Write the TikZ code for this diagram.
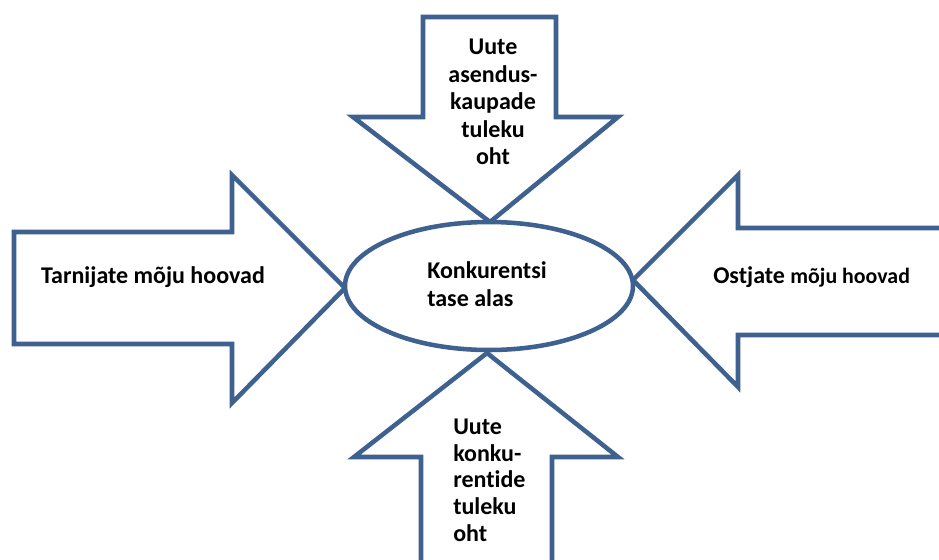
\documentclass[tikz,border=0pt]{standalone}
\usepackage{fontspec}
\setmainfont[Ligatures=NoCommon]{Carlito}
\usetikzlibrary{shapes.geometric}
\definecolor{outline}{HTML}{3E6190}
\begin{document}
\begin{tikzpicture}[x=0.75pt,y=-0.75pt,
  shapeline/.style={draw=outline, line width=3.4pt, fill=white, line join=miter},
  labeltext/.style={font=\bfseries\fontsize{18}{20}\selectfont, inner sep=0pt, text=black}]
\useasboundingbox (0,0) rectangle (939,560);
\clip (0,0) rectangle (939,560);

% block arrows pointing at the centre
\draw[shapeline] (423,17) -- (556,17) -- (556,117) -- (618,117) -- (490,222)
  -- (353,117) -- (423,117) -- cycle;
\draw[shapeline] (421,575) -- (421,457) -- (354,457) -- (487,353) -- (618,457)
  -- (552,457) -- (552,575) -- cycle;
\draw[shapeline] (14,232) -- (232,232) -- (232,175) -- (345,288) -- (232,403)
  -- (232,344) -- (14,344) -- cycle;
\draw[shapeline] (955,228) -- (738,228) -- (738,175) -- (633,280) -- (738,387)
  -- (738,335) -- (955,335) -- cycle;

% centre
\node[shapeline, ellipse, minimum width=216pt, minimum height=96pt] (core) at (489,286) {};
\node[labeltext, align=left, anchor=west] (coretext) at (427,284)
  {Konkurentsi\\[1pt]tase alas};

% arrow labels
\node[labeltext, font=\bfseries\fontsize{18}{20.6}\selectfont, align=center] (top) at (493,102)
  {Uute\\asendus-\\kaupade\\tuleku\\oht};
\node[labeltext, align=left, anchor=west] (bottom) at (453,480)
  {Uute\\konku-\\rentide\\tuleku\\oht};
\node[labeltext] (left) at (153,277) {Tarnijate mõju hoovad};
\node[labeltext, anchor=west] (right) at (713,277)
  {Ostjate {\fontsize{16.4}{18}\selectfont mõju hoovad}};
\end{tikzpicture}
\end{document}
